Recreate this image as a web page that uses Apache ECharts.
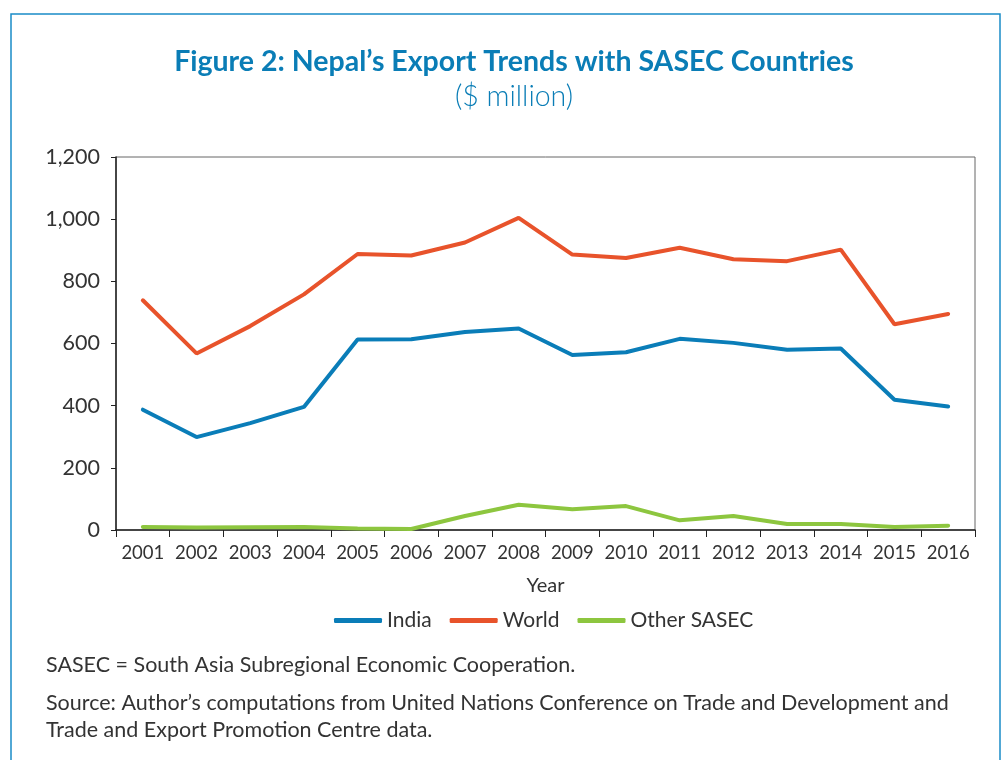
<!DOCTYPE html>
<html><head><meta charset="utf-8">
<script src="https://cdn.jsdelivr.net/npm/echarts@6/dist/echarts.min.js"></script>
<style>html,body{margin:0;padding:0;background:#fff}#c{width:1007px;height:760px}</style>
</head><body><div id="c"></div>
<script>
const years = ['2001','2002','2003','2004','2005','2006','2007','2008','2009','2010','2011','2012','2013','2014','2015','2016'];
const india = [387,299,344,396,613,614,637,648,563,572,615,602,580,584,419,397];
const world = [739,568,656,758,888,883,925,1004,886,875,908,871,865,902,662,695];
const otherSasec = [10,8,9,10,5,3,45,81,67,77,31,45,19,19,10,14];
const yTicks = [0,200,400,600,800,1000,1200];

const FONT = 'Lato, "Open Sans", sans-serif';
const chart = echarts.init(document.getElementById('c'));
chart.setOption({
  animation:false,
  backgroundColor:'#fff',
  graphic:[
    {type:'polyline', shape:{points:[[11,760],[11,14],[1000,14],[1000,760]]}, style:{stroke:'#1a8cc7', lineWidth:1.5, fill:null}},
    {type:'text', x:514, y:62, style:{text:'Figure 2: Nepal\u2019s Export Trends with SASEC Countries', textAlign:'center', textVerticalAlign:'middle',
      fontFamily:FONT, fontSize:28.5, fontWeight:'bold', fill:'#0a7db6'}},
    {type:'text', x:514, y:97, style:{text:'($ million)', textAlign:'center', textVerticalAlign:'middle',
      fontFamily:FONT, fontSize:28.5, fontWeight:300, fill:'#0a7db6'}}
  ],
  title:[
    {text:'SASEC = South Asia Subregional Economic Cooperation.', left:41, top:649,
     textStyle:{fontFamily:FONT, fontSize:21.5, fontWeight:'normal', color:'#333'}},
    {text:'Source: Author\u2019s computations from United Nations Conference on Trade and Development and\nTrade and Export Promotion Centre data.', left:41, top:685,
     textStyle:{fontFamily:FONT, fontSize:21.5, fontWeight:'normal', color:'#333', lineHeight:27}}
  ],
  legend:{
    top:605, left:329, itemWidth:48, itemHeight:5, itemGap:18,
    icon:'roundRect',
    textStyle:{fontFamily:FONT, fontSize:21, color:'#333'},
    data:['India','World','Other SASEC']
  },
  grid:{left:116, right:32, top:157, bottom:230, show:true, borderColor:'#666', borderWidth:1, backgroundColor:'transparent'},
  xAxis:{
    type:'category', data:years, boundaryGap:true,
    name:'Year', nameLocation:'middle', nameGap:46,
    nameTextStyle:{fontFamily:FONT, fontSize:20, color:'#333'},
    axisLine:{lineStyle:{color:'#222', width:1.5}},
    axisTick:{show:true, length:7, interval:0, lineStyle:{color:'#222'}},
    axisLabel:{fontFamily:FONT, fontSize:18.5, color:'#333', margin:14, interval:0, hideOverlap:false}
  },
  yAxis:{
    type:'value', min:0, max:1200, interval:200,
    axisLine:{show:true, lineStyle:{color:'#222', width:1.5}},
    axisTick:{show:true, length:5, lineStyle:{color:'#222'}},
    splitLine:{show:false},
    axisLabel:{fontFamily:FONT, fontSize:21.5, color:'#333', margin:16,
      formatter:v=>yTicks.includes(v)? v.toLocaleString('en-US') : ''}
  },
  series:[
    {name:'India', type:'line', data:india, symbol:'none', lineStyle:{width:4, color:'#0a7db8', cap:'round'}, itemStyle:{color:'#0a7db8'}},
    {name:'World', type:'line', data:world, symbol:'none', lineStyle:{width:4, color:'#e8532b', cap:'round'}, itemStyle:{color:'#e8532b'}},
    {name:'Other SASEC', type:'line', data:otherSasec, symbol:'none', lineStyle:{width:4, color:'#8dc63f', cap:'round'}, itemStyle:{color:'#8dc63f'}}
  ]
});
</script></body></html>
